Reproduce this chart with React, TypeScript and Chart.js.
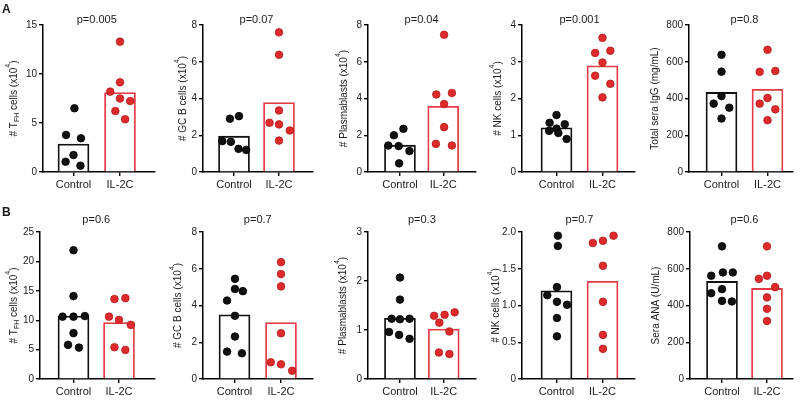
import React, { useEffect, useRef } from "react";
import { Chart, registerables } from "chart.js";

Chart.register(...registerables);

const FONT = '"Liberation Sans", Arial, Helvetica, sans-serif';
Chart.defaults.font.family = FONT;

const groups = ["Control", "IL-2C"];

// ---------- Row A ----------
const a1Ctrl = [6.5, 3.78, 3.44, 1.73, 1.05, 0.64];
const a1CtrlX = [0.02, -0.16, 0.16, 0, -0.17, 0.15];
const a1Il = [13.3, 9.15, 8.2, 7.5, 7.24, 6.22, 5.38];
const a1IlX = [0, 0, -0.21, 0, 0.22, -0.1, 0.11];
const a1Bars = [2.86, 8.1];

const a2Ctrl = [2.9, 3.04, 1.68, 1.64, 1.26, 1.2];
const a2CtrlX = [-0.09, 0.11, -0.26, -0.07, 0.1, 0.27];
const a2Il = [7.6, 6.38, 3.35, 2.68, 2.59, 2.26, 1.71];
const a2IlX = [0, 0, 0, -0.21, 0, 0.24, 0];
const a2Bars = [1.95, 3.78];

const a3Ctrl = [2.35, 2.0, 1.44, 1.41, 1.14, 0.47];
const a3CtrlX = [0.08, -0.14, -0.27, -0.03, 0.22, -0.02];
const a3Il = [7.47, 4.22, 4.3, 3.7, 2.44, 1.53, 1.44];
const a3IlX = [0.02, -0.16, 0.2, 0.02, 0.02, -0.17, 0.2];
const a3Bars = [1.46, 3.58];

const a4Ctrl = [1.55, 1.34, 1.3, 1.18, 1.12, 1.06, 0.9];
const a4CtrlX = [0, -0.15, 0.18, 0, -0.16, 0.04, 0.22];
const a4Il = [3.65, 3.24, 3.3, 2.98, 2.62, 2.4, 2.03];
const a4IlX = [0, -0.16, 0.17, 0, -0.16, 0.17, 0];
const a4Bars = [1.2, 2.89];

const a5Ctrl = [638, 546, 413, 372, 350, 291];
const a5CtrlX = [0, 0, 0, -0.17, 0.17, 0];
const a5Il = [665, 545, 550, 403, 372, 341, 282];
const a5IlX = [0, -0.17, 0.17, 0, -0.17, 0.17, 0];
const a5Bars = [433, 450];

// ---------- Row B ----------
const b1Ctrl = [21.9, 14.1, 10.6, 10.6, 10.7, 7.8, 5.8, 5.34];
const b1CtrlX = [0, 0, -0.24, 0, 0.25, 0, -0.12, 0.12];
const b1Il = [13.6, 13.75, 10.6, 10.05, 9.2, 5.4, 4.94];
const b1IlX = [-0.1, 0.14, -0.22, 0, 0.26, -0.1, 0.14];
const b1Bars = [10.7, 9.6];

const b2Ctrl = [5.45, 4.9, 4.78, 4.27, 3.44, 2.31, 1.49, 1.4];
const b2CtrlX = [0.01, 0.01, 0.18, -0.16, 0.01, 0.01, -0.16, 0.16];
const b2Il = [6.36, 5.71, 5.04, 2.49, 0.91, 0.8, 0.45];
const b2IlX = [0, 0, 0, 0, -0.22, 0, 0.24];
const b2Bars = [3.49, 3.07];

const b3Ctrl = [2.07, 1.62, 1.23, 1.23, 1.22, 0.96, 0.9, 0.82];
const b3CtrlX = [0, 0, -0.19, 0.22, 0, -0.25, -0.02, 0.22];
const b3Il = [1.36, 1.29, 1.31, 1.15, 0.97, 0.54, 0.51];
const b3IlX = [0.25, -0.22, 0.02, -0.1, 0.13, -0.11, 0.13];
const b3Bars = [1.24, 1.02];

const b4Ctrl = [1.95, 1.81, 1.25, 1.14, 1.05, 1.01, 0.83, 0.58];
const b4CtrlX = [0.03, 0.03, 0.01, -0.2, 0.01, 0.23, 0.01, 0.01];
const b4Il = [1.85, 1.88, 1.95, 1.54, 1.05, 0.6, 0.41];
const b4IlX = [-0.21, 0.01, 0.24, 0.01, 0.01, 0.01, 0.01];
const b4Bars = [1.2, 1.33];

const b5Ctrl = [722, 562, 580, 580, 467, 489, 425, 422];
const b5CtrlX = [0, -0.24, 0.02, 0.24, -0.24, 0, 0, 0.22];
const b5Il = [722, 545, 562, 500, 444, 382, 316];
const b5IlX = [0, -0.18, 0, 0.18, 0, 0, 0];
const b5Bars = [531, 493];

// p-values
const pValuesA = ["p=0.005", "p=0.07", "p=0.04", "p=0.001", "p=0.8"];
const pValuesB = ["p=0.6", "p=0.7", "p=0.3", "p=0.7", "p=0.6"];

// y-axis ranges
const yMaxA = [15, 8, 8, 4, 800];
const yStepA = [5, 2, 2, 1, 200];
const yMaxB = [25, 8, 3, 2, 800];
const yStepB = [5, 2, 1, 0.5, 200];

type Seg = { t: string; sub?: boolean; sup?: boolean };
const tfhLabel: Seg[] = [{ t: "# T" }, { t: "FH", sub: true }, { t: " cells (x10" }, { t: "4", sup: true }, { t: ")" }];
const gcbLabel: Seg[] = [{ t: "# GC B cells (x10" }, { t: "4", sup: true }, { t: ")" }];
const pbLabel: Seg[] = [{ t: "# Plasmablasts (x10" }, { t: "4", sup: true }, { t: ")" }];
const nkLabel: Seg[] = [{ t: "# NK cells (x10" }, { t: "4", sup: true }, { t: ")" }];
const iggLabel: Seg[] = [{ t: "Total sera IgG (mg/mL)" }];
const anaLabel: Seg[] = [{ t: "Sera ANA (U/mL)" }];

// layout (pixels inside each 160x200 panel)
type Layout = { col: number; row: number; axisLeft: number; plotRight: number; ctrlC: number; ilC: number; labelX: number };
const layoutsA: Layout[] = [
  { col: 0, row: 0, axisLeft: 43, plotRight: 155, ctrlC: 73.5, ilC: 120, labelX: 13 },
  { col: 1, row: 0, axisLeft: 43, plotRight: 153, ctrlC: 74, ilC: 119, labelX: 22 },
  { col: 2, row: 0, axisLeft: 48, plotRight: 157, ctrlC: 80.5, ilC: 124.5, labelX: 23 },
  { col: 3, row: 0, axisLeft: 42, plotRight: 155, ctrlC: 76.5, ilC: 122.5, labelX: 17 },
  { col: 4, row: 0, axisLeft: 49, plotRight: 153, ctrlC: 81.5, ilC: 127.5, labelX: 14 },
];
const layoutsB: Layout[] = [
  { col: 0, row: 1, axisLeft: 40, plotRight: 155, ctrlC: 73.5, ilC: 119, labelX: 13 },
  { col: 1, row: 1, axisLeft: 43, plotRight: 153, ctrlC: 74.5, ilC: 121, labelX: 17 },
  { col: 2, row: 1, axisLeft: 48, plotRight: 157, ctrlC: 80.5, ilC: 125, labelX: 22 },
  { col: 3, row: 1, axisLeft: 42, plotRight: 155, ctrlC: 76.5, ilC: 122.5, labelX: 15 },
  { col: 4, row: 1, axisLeft: 50, plotRight: 153, ctrlC: 82, ilC: 127, labelX: 15 },
];

type PanelCfg = {
  ctrl: number[]; ctrlX: number[]; il: number[]; ilX: number[]; bars: number[];
  yMax: number; yStep: number; p: string; label: Seg[]; layout: Layout; decimals: boolean;
};

const panels: PanelCfg[] = [
  { ctrl: a1Ctrl, ctrlX: a1CtrlX, il: a1Il, ilX: a1IlX, bars: a1Bars, yMax: yMaxA[0], yStep: yStepA[0], p: pValuesA[0], label: tfhLabel, layout: layoutsA[0], decimals: false },
  { ctrl: a2Ctrl, ctrlX: a2CtrlX, il: a2Il, ilX: a2IlX, bars: a2Bars, yMax: yMaxA[1], yStep: yStepA[1], p: pValuesA[1], label: gcbLabel, layout: layoutsA[1], decimals: false },
  { ctrl: a3Ctrl, ctrlX: a3CtrlX, il: a3Il, ilX: a3IlX, bars: a3Bars, yMax: yMaxA[2], yStep: yStepA[2], p: pValuesA[2], label: pbLabel, layout: layoutsA[2], decimals: false },
  { ctrl: a4Ctrl, ctrlX: a4CtrlX, il: a4Il, ilX: a4IlX, bars: a4Bars, yMax: yMaxA[3], yStep: yStepA[3], p: pValuesA[3], label: nkLabel, layout: layoutsA[3], decimals: false },
  { ctrl: a5Ctrl, ctrlX: a5CtrlX, il: a5Il, ilX: a5IlX, bars: a5Bars, yMax: yMaxA[4], yStep: yStepA[4], p: pValuesA[4], label: iggLabel, layout: layoutsA[4], decimals: false },
  { ctrl: b1Ctrl, ctrlX: b1CtrlX, il: b1Il, ilX: b1IlX, bars: b1Bars, yMax: yMaxB[0], yStep: yStepB[0], p: pValuesB[0], label: tfhLabel, layout: layoutsB[0], decimals: false },
  { ctrl: b2Ctrl, ctrlX: b2CtrlX, il: b2Il, ilX: b2IlX, bars: b2Bars, yMax: yMaxB[1], yStep: yStepB[1], p: pValuesB[1], label: gcbLabel, layout: layoutsB[1], decimals: false },
  { ctrl: b3Ctrl, ctrlX: b3CtrlX, il: b3Il, ilX: b3IlX, bars: b3Bars, yMax: yMaxB[2], yStep: yStepB[2], p: pValuesB[2], label: pbLabel, layout: layoutsB[2], decimals: false },
  { ctrl: b4Ctrl, ctrlX: b4CtrlX, il: b4Il, ilX: b4IlX, bars: b4Bars, yMax: yMaxB[3], yStep: yStepB[3], p: pValuesB[3], label: nkLabel, layout: layoutsB[3], decimals: true },
  { ctrl: b5Ctrl, ctrlX: b5CtrlX, il: b5Il, ilX: b5IlX, bars: b5Bars, yMax: yMaxB[4], yStep: yStepB[4], p: pValuesB[4], label: anaLabel, layout: layoutsB[4], decimals: false },
];

const PW = 160;
const PH = 200;
const TEXT = "#1a1a1a";
const RED_BAR = "#e63946";
const RED_DOT = "#de2a2a";
const RED_EDGE = "#b01c1c";

function Panel({ cfg }: { cfg: PanelCfg }) {
  const ref = useRef<HTMLCanvasElement>(null);
  useEffect(() => {
    const L = cfg.layout;
    const plotTop = L.row === 0 ? 25 : 32;
    const plotBottom = L.row === 0 ? 172 : 179;
    const unit = L.ilC - L.ctrlC;
    const xMin = -(L.ctrlC - L.axisLeft) / unit;
    const xMax = 1 + (L.plotRight - L.ilC) / unit;
    const W = 36;
    const H = 22;

    const textPlugin = {
      id: "panelText",
      afterDraw(chart: any) {
        const { ctx, chartArea, scales } = chart;
        ctx.save();
        ctx.fillStyle = TEXT;
        const cy = (chartArea.top + chartArea.bottom) / 2;
        ctx.translate(L.labelX, cy);
        ctx.rotate(-Math.PI / 2);
        ctx.textBaseline = "alphabetic";
        ctx.textAlign = "left";
        const fontFor = (s: Seg) => (s.sub || s.sup ? `7px ${FONT}` : `10px ${FONT}`);
        let total = 0;
        for (const s of cfg.label) {
          ctx.font = fontFor(s);
          total += ctx.measureText(s.t).width;
        }
        let x = -total / 2;
        for (const s of cfg.label) {
          ctx.font = fontFor(s);
          const dy = s.sub ? 5.5 : s.sup ? -3.5 : 3.5;
          ctx.fillText(s.t, x, dy);
          x += ctx.measureText(s.t).width;
        }
        ctx.restore();
        ctx.save();
        ctx.fillStyle = TEXT;
        ctx.font = `11px ${FONT}`;
        ctx.textAlign = "center";
        ctx.textBaseline = "middle";
        const px = (scales.x.getPixelForValue(0) + scales.x.getPixelForValue(1)) / 2;
        ctx.fillText(cfg.p, px, 20);
        ctx.restore();
      },
    };

    const chart = new Chart(ref.current as HTMLCanvasElement, {
      type: "bar",
      data: {
        datasets: [
          {
            type: "scatter",
            data: cfg.ctrl.map((v, i) => ({ x: 0 + cfg.ctrlX[i], y: v })),
            backgroundColor: "#111",
            borderColor: "#000",
            borderWidth: 0.8,
            pointRadius: 3.8,
            order: 0,
            clip: false,
          } as any,
          {
            type: "scatter",
            data: cfg.il.map((v, i) => ({ x: 1 + cfg.ilX[i], y: v })),
            backgroundColor: RED_DOT,
            borderColor: RED_EDGE,
            borderWidth: 0.8,
            pointRadius: 3.8,
            order: 0,
            clip: false,
          } as any,
          {
            type: "bar",
            data: [
              { x: 0, y: cfg.bars[0] },
              { x: 1, y: cfg.bars[1] },
            ],
            backgroundColor: "#ffffff",
            borderColor: ["#111", RED_BAR],
            borderWidth: 1.8,
            barThickness: 31,
            borderSkipped: "bottom",
            order: 1,
          } as any,
        ],
      },
      options: {
        responsive: false,
        animation: false,
        events: [],
        layout: {
          padding: {
            left: L.axisLeft - W,
            right: PW - L.plotRight,
            top: plotTop,
            bottom: PH - plotBottom - H,
          },
        },
        plugins: { legend: { display: false }, tooltip: { enabled: false }, title: { display: false } },
        scales: {
          x: {
            type: "linear",
            offset: false,
            bounds: "data",
            min: xMin,
            max: xMax,
            afterBuildTicks: (s: any) => {
              s.ticks = [{ value: 0 }, { value: 1 }];
            },
            afterFit: (s: any) => {
              s.height = H;
            },
            ticks: {
              autoSkip: false,
              maxRotation: 0,
              padding: 2,
              color: TEXT,
              font: { size: 11, family: FONT },
              callback: (v: any) => groups[Number(v)] ?? "",
            },
            grid: { offset: false, drawOnChartArea: false, drawTicks: true, tickLength: 4, color: "#000", lineWidth: 1.4 },
            border: { display: true, color: "#000", width: 1.5 },
          },
          y: {
            type: "linear",
            min: 0,
            max: cfg.yMax,
            afterFit: (s: any) => {
              s.width = W;
            },
            ticks: {
              stepSize: cfg.yStep,
              padding: 2,
              color: TEXT,
              font: { size: 10, family: FONT },
              callback: (v: any) => (cfg.decimals && Number(v) !== 0 ? Number(v).toFixed(1) : String(v)),
            },
            grid: { drawOnChartArea: false, drawTicks: true, tickLength: 4, color: "#000", lineWidth: 1.4 },
            border: { display: true, color: "#000", width: 1.5 },
          },
        },
      },
      plugins: [textPlugin],
    } as any);
    return () => chart.destroy();
  }, [cfg]);

  return (
    <canvas
      ref={ref}
      width={PW}
      height={PH}
      style={{ position: "absolute", left: cfg.layout.col * PW, top: cfg.layout.row * PH, width: PW, height: PH }}
    />
  );
}

export default function App() {
  return (
    <div style={{ position: "absolute", left: 0, top: 0, width: 800, height: 400, background: "#fff", overflow: "hidden" }}>
      {panels.map((p, i) => (
        <Panel key={i} cfg={p} />
      ))}
      <div style={{ position: "absolute", left: 2, top: 3, font: `bold 12px ${FONT}`, lineHeight: "12px", color: TEXT }}>A</div>
      <div style={{ position: "absolute", left: 2, top: 206, font: `bold 12px ${FONT}`, lineHeight: "12px", color: TEXT }}>B</div>
    </div>
  );
}
